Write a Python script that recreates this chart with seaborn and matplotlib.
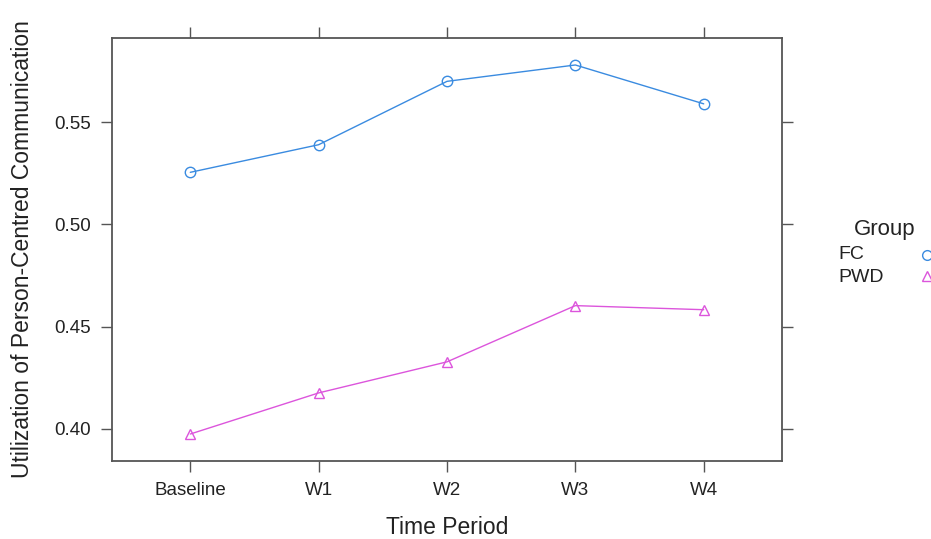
import numpy as np
import pandas as pd
import matplotlib.pyplot as plt
import seaborn as sns
from matplotlib.lines import Line2D

# data
periods = ["Baseline", "W1", "W2", "W3", "W4"]
fc_values = [0.5255, 0.539, 0.570, 0.578, 0.559]
pwd_values = [0.3975, 0.4176, 0.4328, 0.4603, 0.4583]
groups = ["FC", "PWD"]
colors = ["#3a8be0", "#dc55dc"]
markers = ["o", "^"]
y_ticks = [0.40, 0.45, 0.50, 0.55]

df = pd.DataFrame({
    "Time Period": periods * 2,
    "value": fc_values + pwd_values,
    "Group": ["FC"] * len(periods) + ["PWD"] * len(periods),
})

sns.set_style("white")
plt.rcParams["font.family"] = ["Liberation Sans", "DejaVu Sans"]

fig = plt.figure(figsize=(9.31, 5.39), dpi=100)
ax = fig.add_axes([112 / 931, 78 / 539, 670 / 931, 423 / 539])

for g, c, m in zip(groups, colors, markers):
    sub = df[df["Group"] == g]
    sns.lineplot(data=sub, x="Time Period", y="value", ax=ax, color=c,
                 marker=m, markersize=7.5, markerfacecolor="none",
                 markeredgecolor=c, markeredgewidth=1.0, linewidth=1.0,
                 legend=False)

ax.set_xlim(-0.61, 4.61)
ax.set_ylim(0.3843, 0.5912)
ax.set_xticks(range(len(periods)))
ax.set_xticklabels(periods)
ax.set_yticks(y_ticks)
ax.set_yticklabels([f"{t:.2f}" for t in y_ticks])

frame_col = "#555555"
for s in ax.spines.values():
    s.set_visible(True)
    s.set_color(frame_col)
    s.set_linewidth(1.3)
ax.tick_params(axis="both", which="major", direction="out", length=8,
               width=1.0, color=frame_col, labelsize=13.5, labelcolor="#222222",
               top=True, right=True, bottom=True, left=True,
               labeltop=False, labelright=False)
ax.tick_params(axis="x", pad=7)
ax.tick_params(axis="y", pad=7)

ax.set_xlabel("Time Period", fontsize=16.5, color="#222222", va="center")
ax.set_ylabel("Utilization of Person-Centred Communication", fontsize=16.5,
              color="#222222", va="center")
ax.xaxis.set_label_coords(0.5, (461 - 528) / 423)
ax.yaxis.set_label_coords((23 - 112) / 670, 0.5)

# legend on the right, lattice style
W, H = 931, 539
fig.text(885 / W, 1 - 230 / H, "Group", fontsize=16, ha="center", va="center", color="#222222")
fig.text(838 / W, 1 - 255 / H, "FC", fontsize=14, ha="left", va="center", color="#222222")
fig.text(838 / W, 1 - 278 / H, "PWD", fontsize=14, ha="left", va="center", color="#222222")
for yy, c, m in zip([255, 276], colors, markers):
    fig.add_artist(Line2D([927 / W], [1 - yy / H], transform=fig.transFigure,
                          marker=m, markersize=7, markerfacecolor="none",
                          markeredgecolor=c, markeredgewidth=1.0, linestyle="none"))

fig.savefig("out.png", dpi=100)
